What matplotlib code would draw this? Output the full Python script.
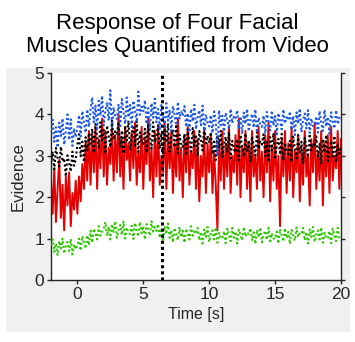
import numpy as np
import matplotlib
matplotlib.use("Agg")
import matplotlib.pyplot as plt
from matplotlib.patches import Rectangle

plt.rcParams['font.family'] = ['Liberation Sans', 'DejaVu Sans']

# time axis: -2 s to 20 s, 8 samples per second
t_start, t_end, rate = -2.0, 20.0, 8
time = np.linspace(t_start, t_end, int((t_end - t_start) * rate) + 1)

red_vals = [
    2.4, 1.6, 2.7, 1.4, 2.2, 2.9, 1.5, 2.3,
    1.2, 2.5, 1.8, 2.6, 1.3, 2.1, 1.7, 2.4,
    1.6, 2.5, 1.9, 2.8, 2.2, 3.3, 2.4, 3.6,
    2.3, 3.5, 2.6, 3.7, 2.2, 3.4, 2.7, 3.9,
    2.5, 3.6, 2.3, 3.2, 2.8, 3.7, 2.4, 3.5,
    2.6, 4.0, 2.5, 3.4, 2.2, 3.7, 2.9, 3.3,
    2.4, 3.6, 2.7, 3.8, 2.3, 3.1, 2.6, 3.7,
    2.2, 3.4, 2.8, 3.9, 2.4, 3.2, 2.0, 3.6,
    2.5, 3.7, 2.3, 3.0, 2.6, 3.8, 2.2, 3.5,
    2.7, 3.6, 2.1, 3.3, 2.5, 3.9, 2.4, 3.2,
    2.0, 3.5, 2.6, 3.7, 2.3, 3.1, 2.7, 3.6,
    2.2, 3.4, 1.9, 3.0, 2.5, 3.6, 2.1, 3.3,
    2.6, 3.5, 2.1, 3.1, 2.3, 1.2, 3.4, 2.4,
    3.6, 2.2, 3.3, 2.5, 3.7, 2.1, 3.0, 2.6,
    3.5, 2.3, 3.9, 2.0, 3.2, 2.6, 3.6, 2.2,
    3.3, 1.9, 3.6, 2.5, 3.0, 2.2, 3.7, 2.4,
    3.1, 2.0, 3.5, 2.6, 3.8, 1.9, 3.2, 2.4,
    3.6, 2.2, 3.0, 1.3, 3.4, 2.5, 3.6, 2.1,
    3.3, 2.4, 3.7, 2.0, 3.1, 2.6, 3.5, 1.9,
    3.2, 2.3, 3.6, 2.5, 3.0, 1.8, 3.4, 2.6,
    3.8, 2.2, 3.1, 2.4, 3.6, 1.8, 3.3, 2.5,
    3.5, 2.1, 3.7, 2.4, 3.0, 2.7, 3.6, 2.2,
    3.4,
]

blue_vals = [
    3.62, 3.87, 3.34, 3.69, 3.20, 3.80, 3.48, 3.90,
    3.27, 3.59, 4.00, 3.38, 3.88, 3.24, 3.66, 3.45,
    3.66, 3.98, 3.47, 4.08, 3.80, 3.56, 4.12, 3.70,
    4.13, 4.41, 3.81, 4.21, 3.65, 4.33, 3.97, 4.45,
    3.73, 4.09, 4.29, 3.85, 4.58, 3.69, 4.17, 3.93,
    3.89, 4.25, 3.67, 4.37, 4.05, 3.77, 4.41, 3.93,
    4.23, 3.65, 4.33, 4.09, 3.81, 4.55, 3.99, 4.19,
    4.08, 4.34, 3.77, 4.15, 3.62, 4.27, 3.92, 4.38,
    3.81, 4.13, 3.62, 4.23, 3.95, 3.71, 4.27, 3.85,
    4.11, 3.60, 4.20, 3.99, 3.74, 4.30, 3.90, 4.07,
    3.97, 4.20, 3.70, 4.03, 3.57, 4.13, 3.83, 4.23,
    3.64, 3.93, 4.10, 3.74, 4.21, 3.60, 4.00, 3.80,
    3.71, 3.98, 3.55, 4.07, 3.83, 3.00, 4.10, 3.74,
    3.97, 3.53, 4.04, 3.86, 3.65, 4.13, 3.79, 3.94,
    3.89, 4.10, 3.65, 3.95, 3.53, 4.04, 3.77, 4.13,
    3.59, 3.86, 4.01, 3.68, 4.12, 3.56, 3.92, 3.74,
    3.70, 3.97, 3.54, 4.06, 3.82, 3.61, 4.09, 3.73,
    3.96, 3.52, 4.03, 3.85, 3.64, 4.12, 3.78, 3.93,
    3.86, 4.07, 3.62, 3.96, 3.50, 4.05, 3.78, 4.14,
    3.57, 3.87, 4.02, 3.66, 4.10, 3.55, 3.90, 3.72,
    3.72, 3.95, 3.56, 4.08, 3.80, 3.60, 4.11, 3.71,
    3.94, 3.53, 4.05, 3.83, 3.66, 4.10, 3.76, 3.92,
    3.85,
]

black_vals = [
    2.83, 3.10, 2.67, 3.19, 2.95, 2.74, 3.22, 2.86,
    2.94, 2.50, 3.01, 2.83, 2.62, 3.10, 2.76, 2.91,
    3.27, 3.52, 2.99, 3.34, 2.85, 3.45, 3.13, 3.55,
    3.29, 3.65, 3.07, 3.77, 3.45, 3.17, 3.81, 3.33,
    3.63, 3.05, 3.73, 3.49, 3.21, 3.85, 3.39, 3.59,
    3.53, 3.81, 3.21, 3.61, 3.05, 3.73, 3.37, 3.85,
    3.13, 3.49, 3.69, 3.25, 3.83, 3.09, 3.57, 3.33,
    3.29, 3.65, 3.07, 3.77, 3.45, 3.17, 3.81, 3.33,
    3.48, 3.74, 3.17, 3.55, 3.02, 3.67, 3.32, 3.78,
    3.10, 3.44, 3.63, 3.21, 3.76, 3.06, 3.51, 3.29,
    3.21, 3.53, 3.01, 3.64, 3.35, 3.10, 3.67, 3.24,
    3.51, 2.99, 3.60, 3.39, 3.13, 3.71, 3.30, 3.48,
    3.32, 3.57, 3.04, 3.39, 2.90, 3.50, 3.18, 3.60,
    2.97, 3.29, 3.46, 3.08, 3.58, 2.94, 3.36, 3.15,
    3.08, 3.40, 2.89, 3.50, 3.22, 2.98, 3.54, 3.12,
    3.38, 2.87, 3.47, 3.26, 3.01, 3.57, 3.17, 3.34,
    3.27, 3.52, 2.99, 3.34, 2.85, 3.45, 3.13, 3.55,
    2.92, 3.24, 3.41, 3.03, 3.53, 2.89, 3.31, 3.10,
    3.04, 3.36, 2.85, 3.46, 3.18, 2.94, 3.50, 3.08,
    3.34, 2.83, 3.43, 3.22, 2.97, 3.53, 3.13, 3.30,
    3.22, 3.47, 2.94, 3.29, 2.80, 3.40, 3.08, 3.50,
    2.87, 3.19, 3.36, 2.98, 3.48, 2.84, 3.26, 3.05,
    3.20,
]

green_vals = [
    0.84, 0.98, 0.68, 0.88, 0.60, 0.94, 0.76, 1.00,
    0.64, 0.82, 0.92, 0.70, 0.99, 0.62, 0.86, 0.74,
    0.82, 1.00, 0.71, 1.06, 0.90, 0.76, 1.08, 0.84,
    1.19, 0.90, 1.24, 1.12, 0.98, 1.30, 1.07, 1.17,
    1.24, 1.40, 1.07, 1.29, 0.98, 1.35, 1.16, 1.42,
    1.02, 1.22, 1.33, 1.09, 1.41, 1.00, 1.27, 1.13,
    1.11, 1.31, 0.99, 1.38, 1.20, 1.05, 1.40, 1.13,
    1.30, 0.98, 1.35, 1.22, 1.07, 1.42, 1.17, 1.28,
    1.19, 1.35, 1.02, 1.24, 0.93, 1.30, 1.11, 1.37,
    1.02, 1.20, 0.91, 1.26, 1.10, 0.96, 1.28, 1.04,
    1.19, 0.90, 1.24, 1.12, 0.98, 1.30, 1.07, 1.17,
    1.12, 1.26, 0.96, 1.16, 0.88, 1.22, 1.04, 1.28,
    0.92, 1.10, 1.20, 0.98, 1.27, 0.90, 1.14, 1.02,
    1.00, 1.18, 0.89, 1.24, 1.08, 0.94, 1.26, 1.02,
    1.17, 0.88, 1.22, 1.10, 0.96, 1.28, 1.05, 1.15,
    1.11, 1.25, 0.95, 1.15, 0.87, 1.21, 1.03, 1.27,
    0.91, 1.09, 1.19, 0.97, 1.26, 0.89, 1.13, 1.01,
    0.99, 1.17, 0.88, 1.23, 1.07, 0.93, 1.25, 1.01,
    1.16, 0.87, 1.21, 1.09, 0.95, 1.27, 1.04, 1.14,
    1.12, 1.26, 0.96, 1.16, 0.88, 1.22, 1.04, 1.28,
    0.92, 1.10, 1.20, 0.98, 1.27, 0.90, 1.14, 1.02,
    1.00, 1.18, 0.89, 1.24, 1.08, 0.94, 1.26, 1.02,
    0.95,
]

event_time = 6.4
x_ticks = [0, 5, 10, 15, 20]
y_ticks = [0, 1, 2, 3, 4, 5]

W, H = 355, 342
fig = plt.figure(figsize=(W / 100, H / 100), dpi=100, facecolor='white')

# grey figure panel behind the axes
fig.patches.append(Rectangle((6 / W, 1 - 332 / H), (350 - 6) / W, (332 - 68) / H,
                             transform=fig.transFigure, facecolor='#f0f0f0',
                             edgecolor='none', zorder=-10))

fig.text(0.5, 1 - 35 / H, "Response of Four Facial\nMuscles Quantified from Video",
         ha='center', va='center', fontsize=16, linespacing=1.12, color='black')

ax = fig.add_axes([51 / W, 1 - 280 / H, (341 - 51) / W, (280 - 73) / H])
ax.set_zorder(1)
ax.set_facecolor('white')

ax.plot(time, red_vals, color='#e60000', lw=1.4, zorder=2)
ax.plot(time, green_vals, color='#2ec800', lw=1.5, ls=(0, (1, 1.2)), zorder=3)
ax.plot(time, black_vals, color='black', lw=1.5, ls=(0, (1, 1.2)), zorder=3)
ax.plot(time, blue_vals, color='#1a56e8', lw=1.5, ls=(0, (1, 1.2)), zorder=3)
ax.axvline(event_time, color='black', lw=2.2, ls=(0, (1, 1)), zorder=4)

ax.set_xlim(-2, 20)
ax.set_ylim(0, 5)
ax.set_xticks(x_ticks)
ax.set_yticks(y_ticks)
ax.spines['top'].set_visible(False)
for s in ['left', 'bottom', 'right']:
    ax.spines[s].set_color('#262626')
    ax.spines[s].set_linewidth(1.0)
ax.tick_params(axis='both', direction='out', length=3, width=1, labelsize=12.5,
               colors='#262626', pad=2)
ax.tick_params(axis='y', right=True, labelright=False)
ax.set_xlabel('Time [s]', fontsize=11.5, color='#262626', labelpad=4)
ax.set_ylabel('Evidence', fontsize=12, color='#262626', labelpad=6)

fig.savefig('out.png', dpi=100, facecolor='white')
